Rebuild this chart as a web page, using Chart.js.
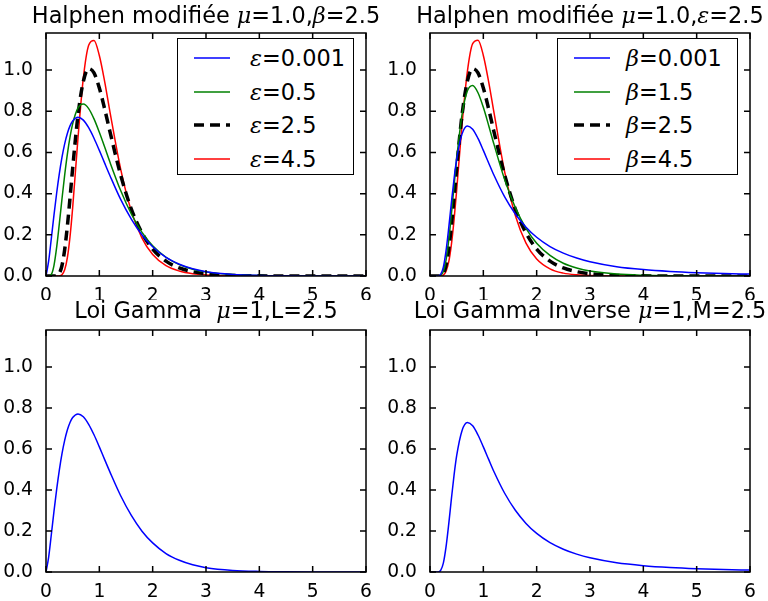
<!DOCTYPE html>
<html>
<head>
<meta charset="utf-8">
<script src="https://cdn.jsdelivr.net/npm/chart.js@4.4.1/dist/chart.umd.min.js"></script>
<style>
body { margin:0; background:#fff; width:768px; height:601px; position:relative; overflow:hidden; font-family:"DejaVu Sans", sans-serif; }
canvas { position:absolute; }
.title { position:absolute; font-size:22.4px; line-height:1; white-space:pre; transform:translateX(-50%); color:#000; }
.m { font-family:"DejaVu Serif", serif; font-style:italic; }
.legend { position:absolute; border:1.5px solid #000; background:#fff; box-sizing:border-box; }
.lab { position:absolute; font-size:22.4px; line-height:1; white-space:pre; transform:translateY(-50%); }
.legend svg { position:absolute; }
</style>
</head>
<body>
<script>
const xs = [0, 0.05, 0.1, 0.15, 0.2, 0.25, 0.3, 0.35, 0.4, 0.45, 0.5, 0.6, 0.7, 0.8, 0.9, 1.0, 1.1, 1.2, 1.4, 1.6, 1.8, 2.0, 2.25, 2.5, 2.75, 3.0, 3.5, 4.0, 4.5, 5.0, 5.5, 6.0];

// Halphen modifiée mu=1, beta=2.5 (eps varies)
const eps0001 = [0, 0.073, 0.183, 0.297, 0.403, 0.497, 0.577, 0.642, 0.692, 0.729, 0.753, 0.771, 0.757, 0.720, 0.669, 0.610, 0.548, 0.487, 0.372, 0.276, 0.199, 0.142, 0.090, 0.057, 0.035, 0.021, 0.0077, 0.0027, 0.0009, 0.0003, 0.0001, 0];
const eps05 = [0, 0, 0.0074, 0.052, 0.140, 0.254, 0.375, 0.490, 0.591, 0.674, 0.739, 0.816, 0.835, 0.813, 0.763, 0.698, 0.626, 0.552, 0.415, 0.301, 0.212, 0.147, 0.091, 0.055, 0.033, 0.020, 0.0067, 0.0022, 0.0007, 0.0002, 0.0001, 0];
const eps25 = [0, 0, 0, 0, 0.0015, 0.013, 0.051, 0.128, 0.241, 0.378, 0.523, 0.781, 0.945, 1.007, 0.986, 0.913, 0.811, 0.700, 0.490, 0.325, 0.209, 0.131, 0.072, 0.039, 0.021, 0.011, 0.003, 0.0008, 0.0002, 0.0001, 0, 0];
const eps45 = [0, 0, 0, 0, 0, 0.0006, 0.0063, 0.030, 0.088, 0.190, 0.332, 0.671, 0.961, 1.120, 1.144, 1.071, 0.944, 0.796, 0.519, 0.315, 0.184, 0.104, 0.050, 0.024, 0.011, 0.0054, 0.0012, 0.0003, 0, 0, 0, 0];

// Halphen modifiée mu=1, eps=2.5 (beta varies)
const beta0001 = [0, 0, 0, 0.0003, 0.0078, 0.043, 0.121, 0.231, 0.354, 0.470, 0.567, 0.689, 0.729, 0.713, 0.668, 0.610, 0.549, 0.489, 0.384, 0.301, 0.237, 0.188, 0.143, 0.111, 0.087, 0.069, 0.045, 0.031, 0.022, 0.016, 0.012, 0.0093];
const beta15 = [0, 0, 0, 0.0001, 0.0031, 0.022, 0.076, 0.171, 0.296, 0.435, 0.569, 0.783, 0.898, 0.925, 0.890, 0.819, 0.731, 0.639, 0.468, 0.332, 0.231, 0.159, 0.100, 0.062, 0.039, 0.024, 0.0094, 0.0037, 0.0015, 0.0006, 0.0003, 0.0001];
const beta25 = eps25;
const beta45 = [0, 0, 0, 0, 0.0004, 0.0043, 0.022, 0.067, 0.150, 0.270, 0.417, 0.734, 0.991, 1.128, 1.145, 1.071, 0.943, 0.793, 0.506, 0.294, 0.160, 0.083, 0.035, 0.014, 0.0055, 0.0021, 0.0003, 0, 0, 0, 0, 0];

// Loi Gamma / Loi Gamma Inverse
const gamma25 = eps0001;
const invGamma25 = beta0001;

const epsLabels = ['0.001', '0.5', '2.5', '4.5'];
const betaLabels = ['0.001', '1.5', '2.5', '4.5'];
const xTicks = [0, 1, 2, 3, 4, 5, 6];
const yTicks = [0, 0.2, 0.4, 0.6, 0.8, 1.0];

const colors = ['#0000ff', '#008000', '#000000', '#ff0000'];
const widths = [1.5, 1.5, 3.5, 1.5];
const dashes = [[], [], [10, 6], []];
const yMax = 1.18;

function pts(ys) {
  return xs.map((x, i) => ({x: x, y: ys[i]}));
}

const frameTicks = {
  id: 'frameTicks',
  afterDraw(chart) {
    const c = chart.ctx, a = chart.chartArea;
    const sx = chart.scales.x, sy = chart.scales.y;
    c.save();
    c.strokeStyle = '#000';
    c.lineWidth = 1.5;
    c.strokeRect(a.left, a.top, a.right - a.left, a.bottom - a.top);
    c.beginPath();
    xTicks.forEach(v => {
      const px = sx.getPixelForValue(v);
      c.moveTo(px, a.bottom); c.lineTo(px, a.bottom - 6);
      c.moveTo(px, a.top); c.lineTo(px, a.top + 6);
    });
    yTicks.forEach(v => {
      const py = sy.getPixelForValue(v);
      c.moveTo(a.left, py); c.lineTo(a.left + 6, py);
      c.moveTo(a.right, py); c.lineTo(a.right - 6, py);
    });
    c.stroke();
    c.restore();
  }
};

function makePanel(box, plot, series) {
  const cv = document.createElement('canvas');
  cv.width = box.w; cv.height = box.h;
  cv.style.left = box.left + 'px'; cv.style.top = box.top + 'px';
  cv.style.width = box.w + 'px'; cv.style.height = box.h + 'px';
  document.body.appendChild(cv);
  const tickFont = {family: 'DejaVu Sans', size: 18.7};
  return new Chart(cv.getContext('2d'), {
    type: 'line',
    data: {
      datasets: series.map(s => ({
        data: pts(s.ys),
        borderColor: colors[s.k],
        borderWidth: widths[s.k],
        borderDash: dashes[s.k],
        pointRadius: 0,
        fill: false,
        cubicInterpolationMode: 'monotone'
      }))
    },
    options: {
      responsive: false,
      animation: false,
      devicePixelRatio: 1,
      layout: {padding: {top: plot.top - box.top, right: box.left + box.w - plot.right, left: 0, bottom: 0}},
      plugins: {legend: {display: false}, tooltip: {enabled: false}},
      scales: {
        x: {
          type: 'linear', min: 0, max: 6,
          grid: {display: false}, border: {display: false},
          afterFit(s) { s.height = box.top + box.h - plot.bottom; },
          afterBuildTicks(s) { s.ticks = xTicks.map(v => ({value: v})); },
          ticks: {color: '#000', font: tickFont, padding: 1, maxRotation: 0, callback: v => String(v)}
        },
        y: {
          type: 'linear', min: 0, max: yMax,
          grid: {display: false}, border: {display: false},
          afterFit(s) { s.width = plot.left - box.left; },
          afterBuildTicks(s) { s.ticks = yTicks.map(v => ({value: v})); },
          ticks: {color: '#000', font: tickFont, padding: 5, callback: v => v.toFixed(1)}
        }
      }
    },
    plugins: [frameTicks]
  });
}

function addTitle(cx, top, html) {
  const d = document.createElement('div');
  d.className = 'title';
  d.style.left = cx + 'px'; d.style.top = top + 'px';
  d.innerHTML = html;
  document.body.appendChild(d);
}

function addLegend(pos, sym, labels) {
  const box = document.createElement('div');
  box.className = 'legend';
  box.style.left = pos.left + 'px'; box.style.top = pos.top + 'px';
  box.style.width = pos.w + 'px'; box.style.height = pos.h + 'px';
  labels.forEach((lab, k) => {
    const y = pos.row0 + k * pos.step;
    const svg = document.createElementNS('http://www.w3.org/2000/svg', 'svg');
    svg.setAttribute('width', 36); svg.setAttribute('height', 10);
    svg.style.left = pos.lineX + 'px'; svg.style.top = (y - 5) + 'px';
    const ln = document.createElementNS('http://www.w3.org/2000/svg', 'line');
    ln.setAttribute('x1', 0); ln.setAttribute('x2', 36);
    ln.setAttribute('y1', 5); ln.setAttribute('y2', 5);
    ln.setAttribute('stroke', colors[k]);
    ln.setAttribute('stroke-width', widths[k]);
    if (dashes[k].length) ln.setAttribute('stroke-dasharray', dashes[k].join(' '));
    svg.appendChild(ln);
    box.appendChild(svg);
    const t = document.createElement('div');
    t.className = 'lab';
    t.style.left = pos.textX + 'px'; t.style.top = y + 'px';
    t.innerHTML = '<span class="m">' + sym + '</span>=' + lab;
    box.appendChild(t);
  });
  document.body.appendChild(box);
}

makePanel({left: 0, top: 0, w: 384, h: 300}, {left: 46, top: 33, right: 366, bottom: 276},
  [{ys: eps0001, k: 0}, {ys: eps05, k: 1}, {ys: eps25, k: 2}, {ys: eps45, k: 3}]);
makePanel({left: 384, top: 0, w: 384, h: 300}, {left: 430, top: 33, right: 750, bottom: 276},
  [{ys: beta0001, k: 0}, {ys: beta15, k: 1}, {ys: beta25, k: 2}, {ys: beta45, k: 3}]);
makePanel({left: 0, top: 300, w: 384, h: 301}, {left: 46, top: 330, right: 366, bottom: 572},
  [{ys: gamma25, k: 0}]);
makePanel({left: 384, top: 300, w: 384, h: 301}, {left: 430, top: 330, right: 750, bottom: 572},
  [{ys: invGamma25, k: 0}]);

addTitle(206, 4, 'Halphen modifiée <span class="m">μ</span>=1.0,<span class="m">β</span>=2.5');
addTitle(590, 4, 'Halphen modifiée <span class="m">μ</span>=1.0,<span class="m">ε</span>=2.5');
addTitle(206, 299, 'Loi Gamma  <span class="m">μ</span>=1,L=2.5');
addTitle(590, 299, 'Loi Gamma Inverse <span class="m">μ</span>=1,M=2.5');

addLegend({left: 177, top: 38, w: 177, h: 137, row0: 19, step: 33.7, lineX: 16, textX: 72}, 'ε', epsLabels);
addLegend({left: 557, top: 38, w: 181, h: 137, row0: 19, step: 33.7, lineX: 16, textX: 68}, 'β', betaLabels);
</script>
</body>
</html>
